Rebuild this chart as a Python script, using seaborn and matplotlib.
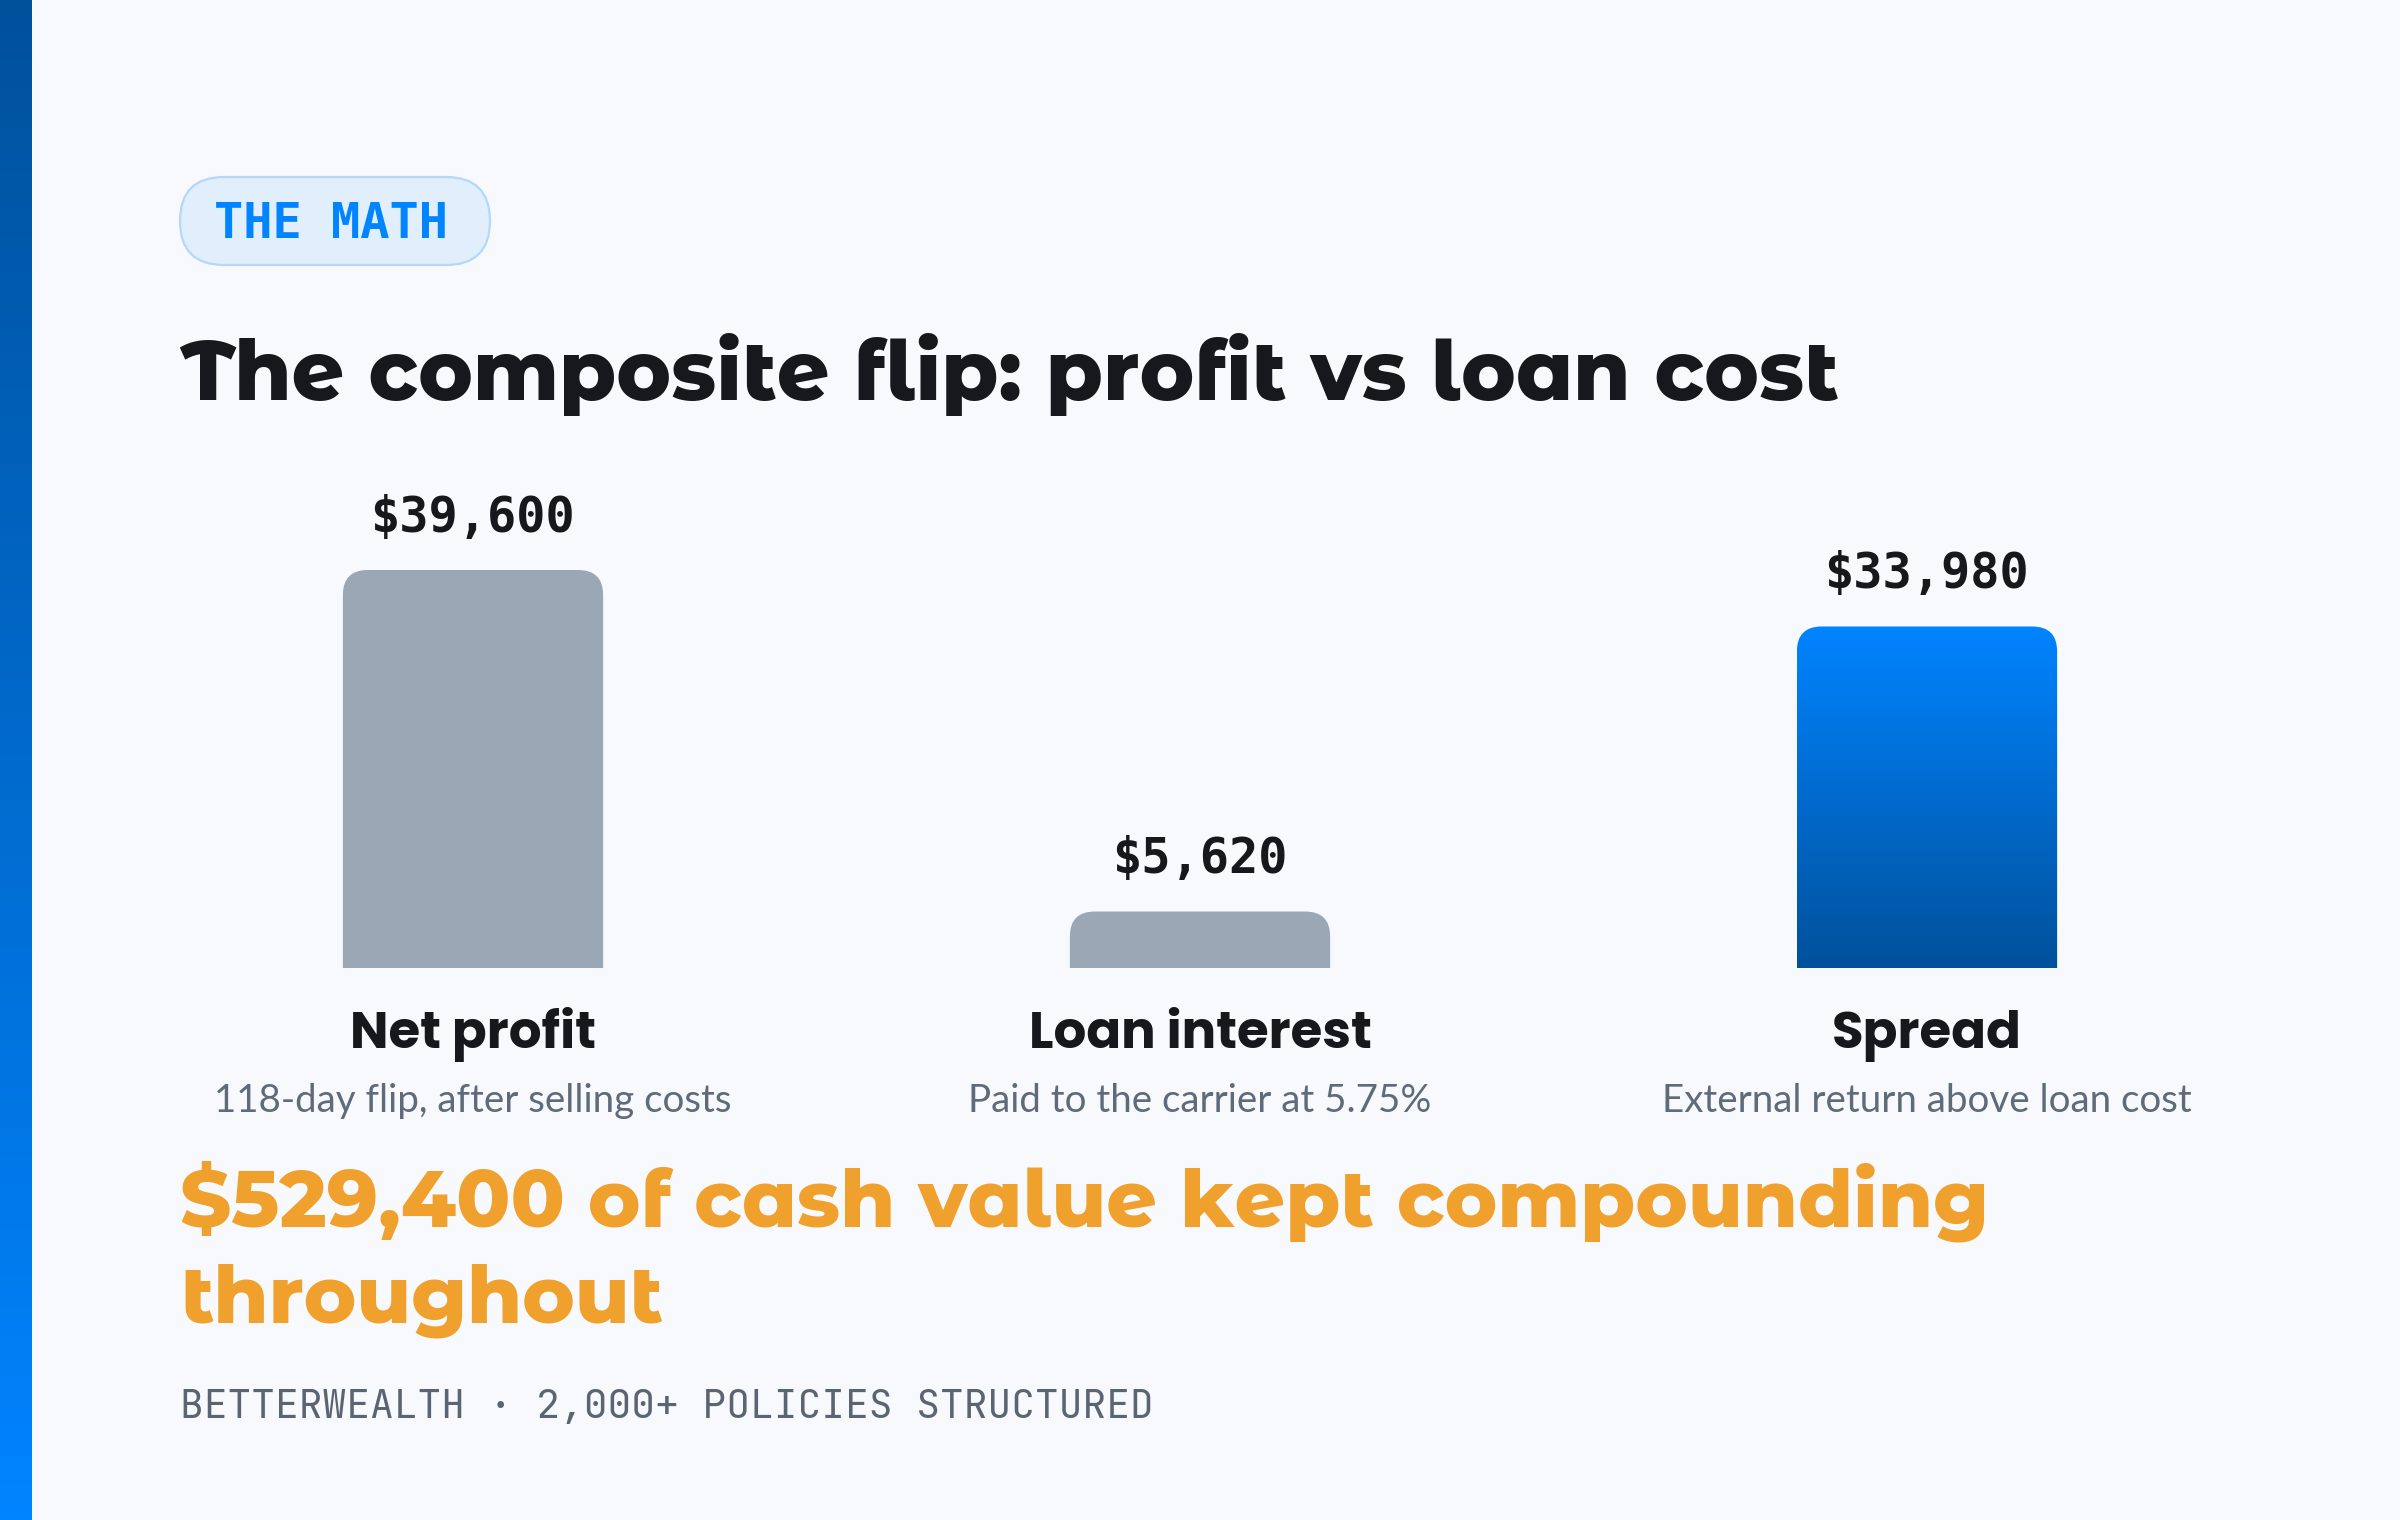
import numpy as np
import pandas as pd
import matplotlib
matplotlib.use("Agg")
import matplotlib.pyplot as plt
import seaborn as sns
from matplotlib import font_manager as fm
from matplotlib.patches import FancyBboxPatch, PathPatch
from matplotlib.path import Path
from matplotlib.transforms import IdentityTransform
from matplotlib.colors import LinearSegmentedColormap

# ---------------- data ----------------
categories = ["Net profit", "Loan interest", "Spread"]
values = [39600, 5620, 33980]
value_labels = ["$39,600", "$5,620", "$33,980"]
subtitles = ["118-day flip, after selling costs",
             "Paid to the carrier at 5.75%",
             "External return above loan cost"]
badge_text = "THE MATH"
title_text = "The composite flip: profit vs loan cost"
callout_lines = ["$529,400 of cash value kept compounding", "throughout"]
footer_text = "BETTERWEALTH \u00b7 2,000+ POLICIES STRUCTURED"

# ---------------- style ----------------
W, H, DPI = 2400, 1520, 100
BG = "#f7f9fc"
INK = "#16181d"
GREY_BAR = "#9aa8b5"
BLUE_TOP = "#0084ff"
BLUE_BOT = "#00519c"
SUB = "#5f6b7a"
ORANGE = "#f0a02d"
HEAD = "Montserrat Alternates"


def pick_font(cands, weight):
    for c in cands:
        try:
            path = fm.findfont(fm.FontProperties(family=c, weight=weight),
                               fallback_to_default=False)
            if path:
                return c
        except Exception:
            pass
    return HEAD


CAT_FONT = pick_font(["Poppins", "Montserrat Alternates"], 700)

sns.set_theme(style="white")
plt.rcParams['font.family'] = ['DejaVu Sans']

fig = plt.figure(figsize=(W / DPI, H / DPI), dpi=DPI, facecolor=BG)

# overlay axes in pixel coordinates (y down)
bg = fig.add_axes([0, 0, 1, 1], zorder=0)
bg.set_facecolor(BG)
bg.axis('off')

# left gradient stripe
stripe_cmap = LinearSegmentedColormap.from_list("stripe", [BLUE_BOT, BLUE_TOP])
bg.imshow(np.linspace(0, 1, 256).reshape(-1, 1), cmap=stripe_cmap,
          extent=[0, 32, H, 0], origin='upper', aspect='auto', zorder=1)
bg.set_xlim(0, W)
bg.set_ylim(H, 0)

# badge
bg.add_patch(FancyBboxPatch((180, 177), 310, 88,
                            boxstyle="round,pad=0,rounding_size=44",
                            fc="#e1eefb", ec="#b5d8fa", lw=1.6, zorder=2))
bg.text(214, 238, badge_text, family="DejaVu Sans Mono", weight="bold",
        fontsize=35, color=BLUE_TOP, ha="left", va="baseline", zorder=3)

# title
bg.text(180, 400, title_text, family=HEAD, weight=800, fontsize=59.3,
        color=INK, ha="left", va="baseline")

# callout
bg.text(180, 1227, callout_lines[0], family=HEAD, weight=800, fontsize=57,
        color=ORANGE, ha="left", va="baseline")
bg.text(180, 1323, callout_lines[1], family=HEAD, weight=800, fontsize=57,
        color=ORANGE, ha="left", va="baseline")

# footer
bg.text(180, 1418, footer_text, family="JetBrains Mono", fontsize=28.5,
        color="#5b6472", ha="left", va="baseline")

# ---------------- chart ----------------
left_px, right_px = 109.5, 2290.5
bottom_px, top_px = 968, 470
ax = fig.add_axes([left_px / W, 1 - bottom_px / H,
                   (right_px - left_px) / W, (bottom_px - top_px) / H], zorder=1)
ax.patch.set_alpha(0)

df = pd.DataFrame({"category": categories, "value": values})
sns.barplot(data=df, x="category", y="value", hue="category",
            palette=[GREY_BAR, GREY_BAR, BLUE_TOP], dodge=False,
            width=0.358, legend=False, ax=ax, saturation=1)
ax.set_xlim(-0.5, 2.5)
ax.set_ylim(0, max(values) * 498 / 398)
ax.set_axis_off()

blue_cmap = LinearSegmentedColormap.from_list("bar", [BLUE_BOT, BLUE_TOP])
R = 25  # corner radius in px


def rounded_top(p):
    x0, w, h = p.get_x(), p.get_width(), p.get_height()
    (dx0, dy0), (dx1, dy1) = ax.transData.transform([(x0, 0), (x0 + w, h)])
    verts = [(dx0, dy0), (dx0, dy1 - R), (dx0, dy1), (dx0 + R, dy1),
             (dx1 - R, dy1), (dx1, dy1), (dx1, dy1 - R), (dx1, dy0), (dx0, dy0)]
    codes = [Path.MOVETO, Path.LINETO, Path.CURVE3, Path.CURVE3,
             Path.LINETO, Path.CURVE3, Path.CURVE3, Path.LINETO, Path.CLOSEPOLY]
    return Path(verts, codes)


bars = list(ax.patches)
for i, p in enumerate(bars):
    path = rounded_top(p)
    fc = p.get_facecolor()
    p.set_visible(False)
    if i == 2:
        clip = PathPatch(path, transform=IdentityTransform(), fc='none', ec='none')
        ax.add_patch(clip)
        x0, w, h = p.get_x(), p.get_width(), p.get_height()
        im = ax.imshow(np.linspace(0, 1, 256).reshape(-1, 1), cmap=blue_cmap,
                       extent=[x0, x0 + w, 0, h], origin='lower', aspect='auto',
                       zorder=2)
        im.set_clip_path(clip)
    else:
        ax.add_patch(PathPatch(path, transform=IdentityTransform(), fc=fc,
                               ec='none', zorder=2))

ax.set_xlim(-0.5, 2.5)
ax.set_ylim(0, max(values) * 498 / 398)

for i, (v, lab) in enumerate(zip(values, value_labels)):
    ax.annotate(lab, xy=(i, v), xytext=(0, 27.4), textcoords='offset points',
                ha='center', va='baseline', family='DejaVu Sans Mono',
                weight='bold', fontsize=35, color=INK, annotation_clip=False)
    ax.annotate(categories[i], xy=(i, 0), xytext=(0, -57.6),
                textcoords='offset points', ha='center', va='baseline',
                family=CAT_FONT, weight=700, fontsize=37, color=INK,
                annotation_clip=False)
    ax.annotate(subtitles[i], xy=(i, 0), xytext=(0, -103.7),
                textcoords='offset points', ha='center', va='baseline',
                family='Lato', weight=400, fontsize=27.7, color=SUB,
                annotation_clip=False)

fig.savefig("out.png", dpi=DPI, facecolor=BG)
